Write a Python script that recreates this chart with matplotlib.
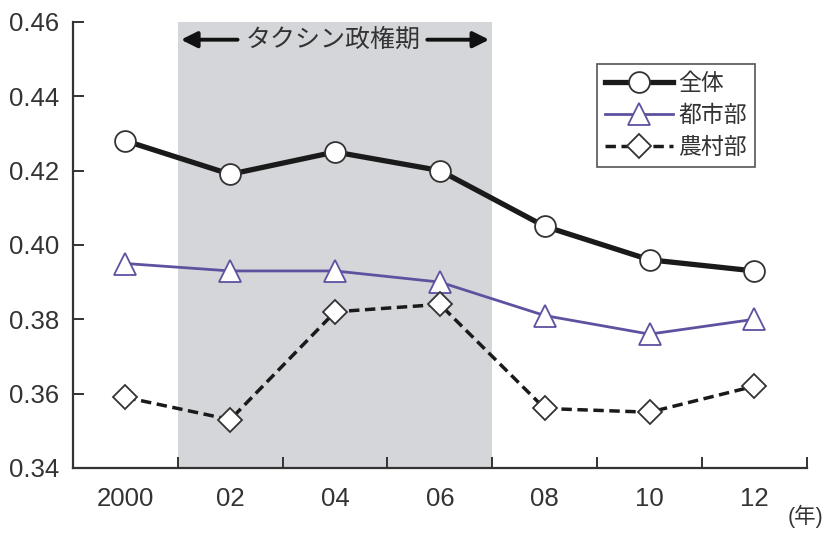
"""Gini coefficient trends in Thailand, total / urban / rural, 2000-2012."""

import matplotlib

matplotlib.use("Agg")
import matplotlib.pyplot as plt

plt.rcParams["font.family"] = ["Liberation Sans", "Noto Sans CJK JP"]

years = ["2000", "02", "04", "06", "08", "10", "12"]
total = [0.428, 0.419, 0.425, 0.420, 0.405, 0.396, 0.393]
urban = [0.395, 0.393, 0.393, 0.390, 0.381, 0.376, 0.380]
rural = [0.359, 0.353, 0.382, 0.384, 0.356, 0.355, 0.362]
y_ticks = [0.34, 0.36, 0.38, 0.40, 0.42, 0.44, 0.46]
thaksin_span = (0.5, 3.5)

TEXT = "#333333"
PURPLE = "#5e52a0"

fig = plt.figure(figsize=(8.24, 5.33), dpi=100)
ax = fig.add_axes([0.0886, 0.122, 0.8905, 0.837])

x = list(range(len(years)))

ax.axvspan(*thaksin_span, ymin=0, ymax=1, color="#d5d6d9", lw=0, zorder=0)

ax.plot(x, total, color="#1a1a1a", lw=3.8, marker="o", ms=15,
        mfc="white", mec="#333333", mew=1.3, label="全体", zorder=4)
ax.plot(x, urban, color=PURPLE, lw=2.0, marker="^", ms=16,
        mfc="white", mec=PURPLE, mew=1.3, label="都市部", zorder=3)
ax.plot(x, rural, color="#1a1a1a", lw=2.5, ls=(0, (3, 1.6)), marker="D", ms=12,
        mfc="white", mec="#333333", mew=1.3, label="農村部", zorder=3)

ax.set_xlim(-0.5, 6.5)
ax.set_ylim(0.34, 0.46)

# period label with arrows out to the shaded span edges
y_lab = 0.4552
ax.text(1.98, y_lab, "タクシン政権期", ha="center", va="center",
        fontsize=18, color=TEXT, zorder=5)
arrow = dict(arrowstyle="-|>", color="#111111", lw=2.8,
             mutation_scale=24, shrinkA=0, shrinkB=0)
ax.annotate("", xy=(thaksin_span[0] + 0.03, y_lab), xytext=(1.07, y_lab), arrowprops=arrow)
ax.annotate("", xy=(thaksin_span[1] - 0.03, y_lab), xytext=(2.88, y_lab), arrowprops=arrow)

for side in ("top", "right"):
    ax.spines[side].set_visible(False)
for side in ("left", "bottom"):
    ax.spines[side].set_color(TEXT)
    ax.spines[side].set_linewidth(1.6)

ax.set_yticks(y_ticks)
ax.set_yticklabels([f"{v:.2f}" for v in y_ticks])
ax.tick_params(axis="y", direction="in", length=8, width=1.4, color=TEXT,
               labelsize=18.5, labelcolor=TEXT, pad=10)

ax.set_xticks(x)
ax.set_xticklabels(years)
ax.set_xticks([i + 0.5 for i in x], minor=True)
ax.tick_params(axis="x", which="major", length=0, labelsize=18.5,
               labelcolor=TEXT, pad=14)
ax.tick_params(axis="x", which="minor", direction="in", length=8,
               width=1.4, color=TEXT)

fig.text(0.999, 0.01, "(年)", ha="right", va="bottom", fontsize=15.5, color=TEXT)

leg = ax.legend(loc="upper right", bbox_to_anchor=(0.929, 0.906), fontsize=16.5,
                handlelength=3.0, handletextpad=0.2, labelspacing=0.4,
                borderpad=0.35, borderaxespad=0, fancybox=False, framealpha=1,
                labelcolor=TEXT)
leg.get_frame().set_edgecolor("#555555")
leg.get_frame().set_linewidth(1.2)

fig.savefig("out.png", dpi=100)
